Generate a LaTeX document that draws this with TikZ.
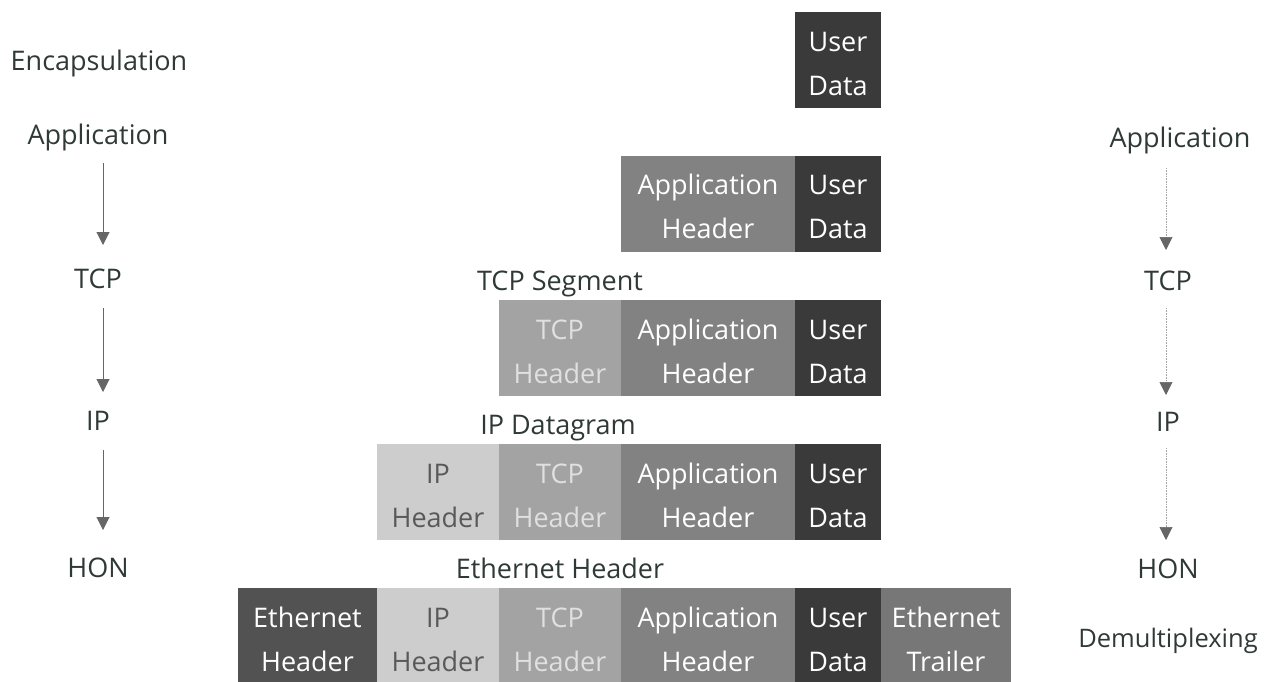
\documentclass[tikz,border=0pt]{standalone}
\usepackage{fontspec}
\setmainfont{Open Sans}
\usetikzlibrary{arrows.meta}

\definecolor{ethgray}{HTML}{525252}
\definecolor{ipgray}{HTML}{CDCDCD}
\definecolor{tcpgray}{HTML}{A3A3A3}
\definecolor{appgray}{HTML}{828282}
\definecolor{usergray}{HTML}{3A3A3A}
\definecolor{trailgray}{HTML}{777777}
\definecolor{inkgray}{HTML}{2F3A36}
\definecolor{arrowgray}{HTML}{666666}

\newcommand\cellstrut{\rule[-9pt]{0pt}{44pt}}

\begin{document}
\begin{tikzpicture}[x=1pt,y=-1pt,
    font=\fontsize{27}{44}\selectfont,
    cell/.style={inner sep=0pt, minimum height=96pt, align=center},
    ethcell/.style={cell, fill=ethgray, text=white, minimum width=139pt},
    ipcell/.style={cell, fill=ipgray, text=black!65, minimum width=122pt},
    tcpcell/.style={cell, fill=tcpgray, text=black!12, minimum width=122pt},
    appcell/.style={cell, fill=appgray, text=white, minimum width=174pt},
    usercell/.style={cell, fill=usergray, text=white, minimum width=86pt},
    trailcell/.style={cell, fill=trailgray, text=white, minimum width=130pt},
    lbl/.style={text=inkgray, inner sep=0pt, text height=20pt, text depth=6pt},
    down/.style={draw=arrowgray, line width=1pt, -{Triangle[width=13pt,length=13pt]}},
    updown/.style={draw=arrowgray!60, line width=0.6pt, densely dotted,
      -{Triangle[width=13pt,length=13pt,color=arrowgray,fill=arrowgray]}}]

      \useasboundingbox (0,0) rectangle (1266,681);

      %%% row 1 %%%
      \node (user1) at (838,60) [usercell] {\cellstrut User\\\cellstrut Data};

      %%% row 2 %%%
      \node (app2) at (708,203.5) [appcell] {\cellstrut Application\\\cellstrut Header};
      \node (user2) at (838,203.5) [usercell] {\cellstrut User\\\cellstrut Data};

      %%% row 3 %%%
      \node (seg) at (560,283) [lbl] {TCP Segment};
      \node (tcp3) at (560,348) [tcpcell] {\cellstrut TCP\\\cellstrut Header};
      \node (app3) at (708,348) [appcell] {\cellstrut Application\\\cellstrut Header};
      \node (user3) at (838,348) [usercell] {\cellstrut User\\\cellstrut Data};

      %%% row 4 %%%
      \node (dgram) at (558,427) [lbl] {IP Datagram};
      \node (ip4) at (438,492) [ipcell] {\cellstrut IP\\\cellstrut Header};
      \node (tcp4) at (560,492) [tcpcell] {\cellstrut TCP\\\cellstrut Header};
      \node (app4) at (708,492) [appcell] {\cellstrut Application\\\cellstrut Header};
      \node (user4) at (838,492) [usercell] {\cellstrut User\\\cellstrut Data};

      %%% row 5 %%%
      \node (frame) at (560,571) [lbl] {Ethernet Header};
      \node (eth5) at (307.5,636) [ethcell] {\cellstrut Ethernet\\\cellstrut Header};
      \node (ip5) at (438,636) [ipcell] {\cellstrut IP\\\cellstrut Header};
      \node (tcp5) at (560,636) [tcpcell] {\cellstrut TCP\\\cellstrut Header};
      \node (app5) at (708,636) [appcell] {\cellstrut Application\\\cellstrut Header};
      \node (user5) at (838,636) [usercell] {\cellstrut User\\\cellstrut Data};
      \node (trail5) at (946,636) [trailcell] {\cellstrut Ethernet\\\cellstrut Trailer};

      % left column
      \node (encap) at (99,63) [lbl] {Encapsulation};
      \node (appL) at (98,137) [lbl] {Application};
      \node (tcpL) at (98,281) [lbl] {TCP};
      \node (ipL) at (98,423) [lbl] {IP};
      \node (honL) at (98,570) [lbl] {HON};

      \draw[down, shorten <=26pt, shorten >=36pt]
        ([xshift=5pt]appL.center) to ([xshift=5pt]tcpL.center);
      \draw[down, shorten <=27pt, shorten >=31pt]
        ([xshift=5pt]tcpL.center) to ([xshift=5pt]ipL.center);
      \draw[down, shorten <=27pt, shorten >=40pt]
        ([xshift=5pt]ipL.center) to ([xshift=5pt]honL.center);

      % right column
      \node (appR) at (1180,140) [lbl] {Application};
      \node (tcpR) at (1168,283) [lbl] {TCP};
      \node (ipR) at (1168,424) [lbl] {IP};
      \node (honR) at (1168,571) [lbl] {HON};
      \node (demux) at (1168,640) [lbl, font=\fontsize{25.5}{30}\selectfont] {Demultiplexing};

      \draw[updown, shorten <=28pt, shorten >=33pt]
        ([xshift=-14pt]appR.center) to ([xshift=-2pt]tcpR.center);
      \draw[updown, shorten <=25pt, shorten >=29pt]
        ([xshift=-2pt]tcpR.center) to ([xshift=-2pt]ipR.center);
      \draw[updown, shorten <=24pt, shorten >=31pt]
        ([xshift=-2pt]ipR.center) to ([xshift=-2pt]honR.center);

    \end{tikzpicture}
\end{document}
